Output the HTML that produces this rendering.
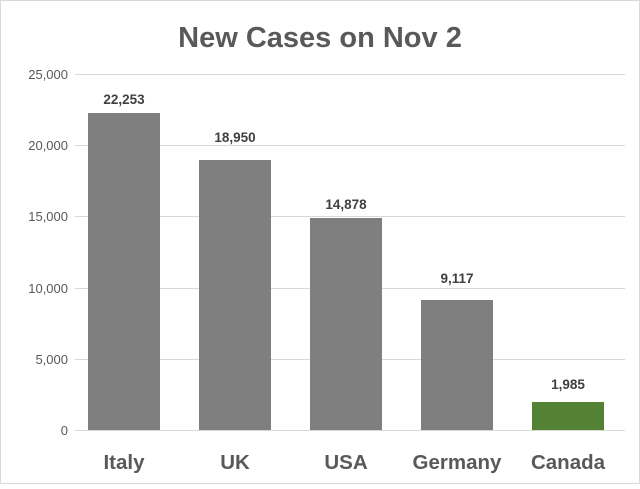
<!DOCTYPE html>
<html><head><style>
body{margin:0;background:#fff;}
svg text{font-family:"Liberation Sans",sans-serif;}
</style></head><body>
<svg width="640" height="484" xmlns="http://www.w3.org/2000/svg">
<rect x="0" y="0" width="640" height="484" fill="#fff"/>
<rect x="0.5" y="0.5" width="639" height="483" fill="none" stroke="#d9d9d9"/>
<text x="320" y="47" text-anchor="middle" font-size="29" font-weight="bold" fill="#595959">New Cases on Nov 2</text>
<g stroke="#d9d9d9" stroke-width="1">
<line x1="75" y1="74.5" x2="625" y2="74.5"/>
<line x1="75" y1="145.5" x2="625" y2="145.5"/>
<line x1="75" y1="216.5" x2="625" y2="216.5"/>
<line x1="75" y1="288.5" x2="625" y2="288.5"/>
<line x1="75" y1="359.5" x2="625" y2="359.5"/>
<line x1="75" y1="430.5" x2="625" y2="430.5"/>
</g>
<g font-size="13" fill="#595959" text-anchor="end">
<text x="68" y="79">25,000</text>
<text x="68" y="150">20,000</text>
<text x="68" y="221">15,000</text>
<text x="68" y="293">10,000</text>
<text x="68" y="364">5,000</text>
<text x="68" y="435">0</text>
</g>
<g fill="#7f7f7f">
<rect x="88" y="113" width="72" height="317"/>
<rect x="199" y="160" width="72" height="270"/>
<rect x="310" y="218" width="72" height="212"/>
<rect x="421" y="300" width="72" height="130"/>
</g>
<rect x="532" y="402" width="72" height="28" fill="#548235"/>
<g font-size="13.5" font-weight="bold" fill="#404040" text-anchor="middle">
<text x="124" y="104">22,253</text>
<text x="235" y="142">18,950</text>
<text x="346" y="209">14,878</text>
<text x="457" y="283">9,117</text>
<text x="568" y="389">1,985</text>
</g>
<g font-size="20.5" font-weight="bold" fill="#595959" text-anchor="middle">
<text x="124" y="469">Italy</text>
<text x="235" y="469">UK</text>
<text x="346" y="469">USA</text>
<text x="457" y="469">Germany</text>
<text x="568" y="469">Canada</text>
</g>
</svg>
</body></html>
